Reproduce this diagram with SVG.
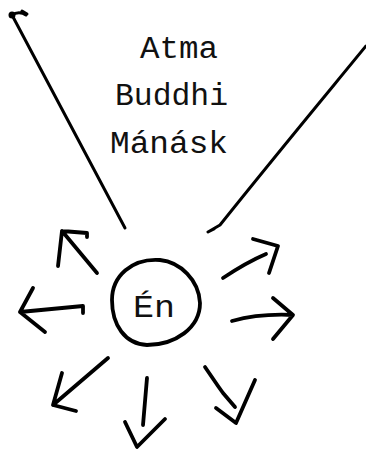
<svg xmlns="http://www.w3.org/2000/svg" width="366" height="450" viewBox="0 0 366 450">
<style>
.ink{fill:none;stroke:#000;stroke-linecap:round;stroke-linejoin:round}
.thin{stroke-width:3}
.thick{stroke-width:3.8}
.lbl{font-family:"Liberation Mono","DejaVu Sans Mono",monospace;font-size:31px;fill:#111}
</style>
<rect width="366" height="450" fill="#fff"/>
<g id="principles">
<text class="lbl" x="140" y="58" textLength="78" lengthAdjust="spacingAndGlyphs">Atma</text>
<text class="lbl" x="115" y="105" textLength="113" lengthAdjust="spacingAndGlyphs">Buddhi</text>
<text class="lbl" x="110" y="153" textLength="118" lengthAdjust="spacingAndGlyphs">Mánásk</text>
</g>
<g id="en">
<path class="ink thick" d="M160,260 C180,262 199,280 200,303 C200,328 175,345 147,345 C125,344 112,325 112,300 C112,276 132,258 160,260 Z"/>
<text class="lbl" x="133" y="317" font-size="32" textLength="42" lengthAdjust="spacingAndGlyphs">Én</text>
</g>
<g id="connectors">
<path class="ink thin" d="M12,15 L125,228"/>
<path class="ink thin" d="M12,15 C16,12 22,12 26,15 M22,11 L27,14"/>
<circle cx="12" cy="15" r="3.5"/>
<path class="ink thin" d="M366,46 C330,90 280,150 220,225 L208,232 L214,229"/>
<path class="ink thick" d="M97,273 L62,231 L87,233 L87,237 M62,231 L58,266"/>
<path class="ink thick" d="M83,313 L83,306 L20,312 L33,288 M20,312 L45,332"/>
<path class="ink thick" d="M108,358 L53,405 L62,373 M53,405 L76,411"/>
<path class="ink thick" d="M147,378 L143,425 M125,422 L137,447 L165,419"/>
<path class="ink thick" d="M205,367 L218,386 L223,393 L235,407 M216,408 L236,423 L255,380"/>
<path class="ink thick" d="M232,321 C250,316 272,314 293,315 L273,298 M293,315 L273,339"/>
<path class="ink thick" d="M223,278 C238,268 252,260 266,254 M253,239 L278,246 L269,273"/>
</g>
</svg>
